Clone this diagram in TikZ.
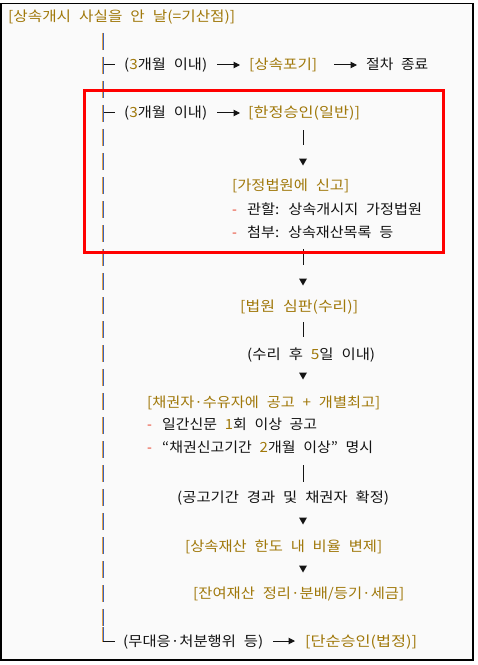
\documentclass[tikz,border=0pt]{standalone}
\usepackage{fontspec}
\usepackage{graphicx}
\usetikzlibrary{arrows.meta}
\newfontfamily\kr[WordSpace=2.3]{Noto Sans CJK KR}
\definecolor{gold}{HTML}{A0780A}
\definecolor{ink}{HTML}{141414}
\definecolor{dashred}{HTML}{E8412C}
\definecolor{boxred}{HTML}{FF0000}
\definecolor{bg}{HTML}{FAFAFA}
\definecolor{trunkA}{HTML}{E3A048}
\definecolor{trunkB}{HTML}{3A62B8}
\newcommand\gd[1]{\textcolor{gold}{#1}}
\newcommand\fitt[2]{\resizebox{#1bp}{\height}{#2}}
\newcommand\downtri[2]{\fill[ink] (#1-4,#2-3.5) -- (#1+4,#2-3.5) -- (#1,#2+3.5) -- cycle;}
\tikzset{
  txt/.style={anchor=west, inner sep=0pt, text height=12.5bp, text depth=2.5bp, text=ink},
  gtxt/.style={txt, text=gold},
  dsh/.style={txt, text=dashred},
  arr/.style={draw=ink, line width=1bp, -{Triangle[length=6.5bp,width=6.5bp]}},
  tick/.style={draw=ink, line width=1bp},
  bar/.style={draw=ink, line width=1bp},
}
\begin{document}
\begin{tikzpicture}[x=1bp,y=-1bp,font={\kr\fontsize{14bp}{16bp}\selectfont}]
\useasboundingbox (0,0) rectangle (478,665);
\fill[white] (0,0) rectangle (478,665);
\draw[line width=1.5bp, fill=bg] (0.75,3.5) rectangle (473,660);

% trunk (dashed vertical line made of bars)
\foreach \c in {41,65,...,617} {
  \draw[trunkA, line width=1bp] (102.5,\c-8) -- (102.5,\c+9);
  \draw[trunkB, line width=1bp] (103.5,\c-8) -- (103.5,\c+9);
}
\draw[trunkA, line width=1bp] (102.5,627) -- (102.5,641.5);
\draw[trunkB, line width=1bp] (103.5,627) -- (103.5,641.5);

% start
\node[gtxt] (start) at (8,17) {\fitt{227}{[상속개시 사실을 안 날(=기산점)]}};

% branch 1: renunciation
\draw[tick] (103.5,65) -- (115,65);
\node[txt] (p1) at (124,65) {\fitt{83}{(\gd{3}개월 이내)}};
\node[gtxt] (s1) at (249,65) {\fitt{68}{[상속포기]}};
\node[txt] (e1) at (366,65) {\fitt{62}{절차 종료}};
\draw[arr, shorten <=10bp, shorten >=9bp] (p1) -- (s1);
\draw[arr, shorten <=17bp, shorten >=9bp] (s1) -- (e1);

% branch 2: qualified acceptance
\draw[tick] (103.5,113) -- (115,113);
\node[txt] (p2) at (124,113) {\fitt{83}{(\gd{3}개월 이내)}};
\node[gtxt] (h1) at (248,113) {\fitt{112}{[한정승인(일반)]}};
\draw[arr, shorten <=10bp, shorten >=8bp] (p2) -- (h1);

\draw[bar] (303,130) -- (303,145);
\downtri{303}{162}
\node[gtxt] (f1) at (232,185) {\fitt{117}{[가정법원에 신고]}};
\node[dsh] (f1a) at (232,209) {-};
\node[txt] (j1) at (247,209) {\fitt{175}{관할: 상속개시지 가정법원}};
\node[dsh] (f1b) at (232,232) {-};
\node[txt] (j2) at (247,232) {\fitt{146}{첨부: 상속재산목록 등}};

\draw[bar] (303,249) -- (303,265);
\downtri{303}{282}
\node[gtxt] (c1) at (240,306) {\fitt{118}{[법원 심판(수리)]}};
\draw[bar] (303,322) -- (303,337);
\node[txt] (w1) at (247,354) {\fitt{128}{(수리 후 \gd{5}일 이내)}};
\downtri{303}{376}
\node[gtxt] (n1) at (147,402) {\fitt{233}{[채권자·수유자에 공고 + 개별최고]}};
\node[dsh] (n1a) at (147,424) {-};
\node[txt] (l1) at (162,424) {\fitt{155}{일간신문 \gd{1}회 이상 공고}};
\node[dsh] (n1b) at (147,447) {-};
\node[txt] (l2) at (162,447) {\fitt{211}{“채권신고기간 \gd{2}개월 이상” 명시}};
\draw[bar] (303,465) -- (303,482);
\node[txt] (q1) at (177,497) {\fitt{212}{(공고기간 경과 및 채권자 확정)}};
\downtri{303}{521}
\node[gtxt] (r1) at (185,546) {\fitt{197}{[상속재산 한도 내 비율 변제]}};
\downtri{303}{569}
\node[gtxt] (z1) at (193,593) {\fitt{211}{[잔여재산 정리·분배/등기·세금]}};

% branch 3: simple acceptance
\draw[tick] (103,641) -- (115,641);
\node[txt] (m1) at (123,641) {\fitt{140}{(무대응·처분행위 등)}};
\node[gtxt] (d1) at (305,641) {\fitt{112}{[단순승인(법정)]}};
\draw[arr, shorten <=10bp, shorten >=10bp] (m1) -- (d1);

% highlight box
\draw[boxred, line width=3bp] (84,91) rectangle (443,252);
\end{tikzpicture}
\end{document}
